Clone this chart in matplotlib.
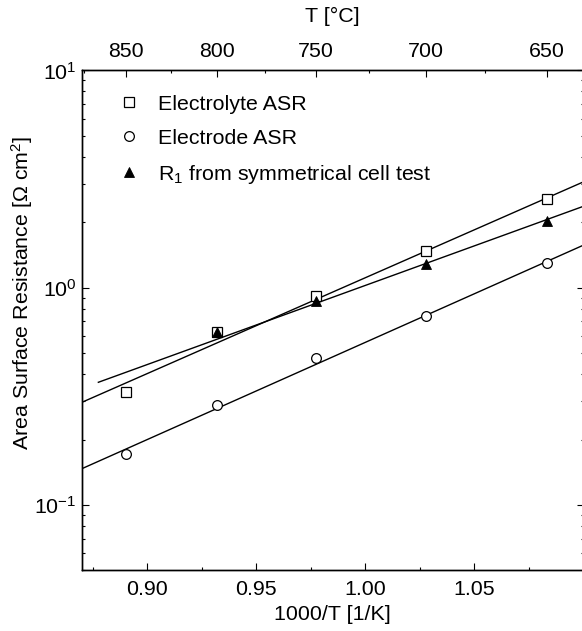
import numpy as np
import matplotlib
matplotlib.use("Agg")
import matplotlib.pyplot as plt
from matplotlib.ticker import FixedLocator, NullFormatter, LogLocator, FormatStrFormatter

plt.rcParams["font.family"] = ["Liberation Sans", "DejaVu Sans"]
plt.rcParams["mathtext.fontset"] = "custom"
plt.rcParams["mathtext.rm"] = "Liberation Sans"
plt.rcParams["mathtext.it"] = "Liberation Sans:italic"
plt.rcParams["mathtext.bf"] = "Liberation Sans:bold"

# Measurement temperatures [degC]
temps_c = [850, 800, 750, 700, 650]
inv_t = [1000.0 / (t + 273.15) for t in temps_c]

# Area specific resistances [Ohm cm^2]
electrolyte_asr = [0.330, 0.623, 0.918, 1.48, 2.56]
electrode_asr = [0.172, 0.287, 0.473, 0.738, 1.30]
r1_temps_c = [800, 750, 700, 650]
r1_inv_t = [1000.0 / (t + 273.15) for t in r1_temps_c]
r1_sym = [0.628, 0.871, 1.285, 2.02]

# Arrhenius fit lines (end points)
fit_x = [0.87, 1.10]
electrolyte_fit = [0.297, 3.07]
electrode_fit = [0.147, 1.57]
r1_fit_x = [0.8775, 1.10]
r1_fit = [0.367, 2.37]

# Axis ticks
bottom_major = [0.90, 0.95, 1.00, 1.05]
bottom_minor = [0.875, 0.925, 0.975, 1.025, 1.075]
top_major_c = [850, 800, 750, 700, 650]
top_minor_c = [875, 825, 775, 725, 675]

FS = 15.4

fig = plt.figure(figsize=(5.82, 6.31), dpi=100)
ax = fig.add_axes([82 / 582, (631 - 570.4) / 631, 501.5 / 582, 500 / 631])

ax.plot(fit_x, electrolyte_fit, color="black", lw=1.0, zorder=2)
ax.plot(fit_x, electrode_fit, color="black", lw=1.0, zorder=2)
ax.plot(r1_fit_x, r1_fit, color="black", lw=1.0, zorder=2)

ax.plot(inv_t, electrolyte_asr, ls="none", marker="s", ms=6.6, mfc="white",
        mec="black", mew=0.9, label="Electrolyte ASR", zorder=3)
ax.plot(inv_t, electrode_asr, ls="none", marker="o", ms=7.0, mfc="white",
        mec="black", mew=0.9, label="Electrode ASR", zorder=3)
ax.plot(r1_inv_t, r1_sym, ls="none", marker="^", ms=7.6, mfc="black",
        mec="black", mew=0.6, label="R$_1$ from symmetrical cell test", zorder=4)

ax.set_yscale("log")
ax.set_xlim(0.87, 1.10)
ax.set_ylim(0.05, 10)

ax.xaxis.set_major_locator(FixedLocator(bottom_major))
ax.xaxis.set_minor_locator(FixedLocator(bottom_minor))
ax.xaxis.set_major_formatter(FormatStrFormatter("%.2f"))
ax.yaxis.set_major_locator(LogLocator(base=10, numticks=10))
ax.yaxis.set_minor_locator(LogLocator(base=10, subs=np.arange(2, 10), numticks=20))
ax.yaxis.set_minor_formatter(NullFormatter())

ax.tick_params(which="both", direction="in", top=False, right=True,
               labelsize=FS, width=0.8, color="black")
ax.tick_params(which="major", length=5.3)
ax.tick_params(which="minor", length=2.4)
ax.tick_params(axis="x", pad=7)
ax.tick_params(axis="y", pad=4)

for sp in ax.spines.values():
    sp.set_linewidth(1.0)

ax.set_xlabel("1000/T [1/K]", fontsize=FS, labelpad=4)
ax.set_ylabel("Area Surface Resistance [Ω cm$^2$]", fontsize=FS)
ax.yaxis.set_label_coords(-0.093, 0.555)

# Temperature axis on top
ax2 = ax.twiny()
ax2.set_xlim(ax.get_xlim())
ax2.xaxis.set_major_locator(FixedLocator([1000.0 / (t + 273.15) for t in top_major_c]))
ax2.xaxis.set_minor_locator(FixedLocator([1000.0 / (t + 273.15) for t in top_minor_c]))
ax2.set_xticklabels([str(t) for t in top_major_c])
ax2.tick_params(which="both", direction="in", labelsize=FS, width=0.8, pad=7)
ax2.tick_params(which="major", length=5.3)
ax2.tick_params(which="minor", length=2.4)
ax2.set_xlabel("T [°C]", fontsize=FS, labelpad=14)
for sp in ax2.spines.values():
    sp.set_linewidth(1.0)

leg = ax.legend(loc="upper left", bbox_to_anchor=(0.072, 0.951), frameon=False,
                fontsize=FS, numpoints=1, handlelength=1.0, handletextpad=0.85,
                labelspacing=0.70, borderpad=0, borderaxespad=0)

fig.savefig("out.png", dpi=100)
